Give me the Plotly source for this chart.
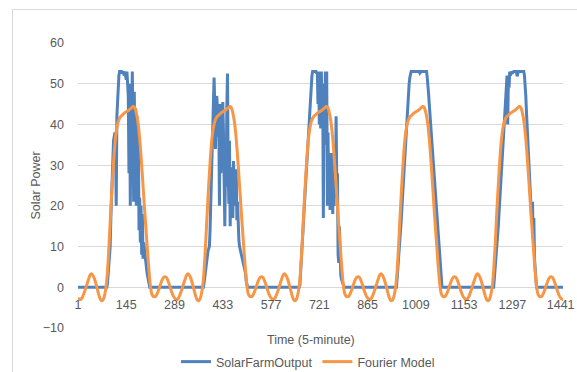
import plotly.graph_objects as go

# ---------------- data ----------------
# time-of-day sample positions (5-minute steps within a day) for the daylight part
day_t = list(range(84, 224, 2))

solar_day1 = [0, 0, 1, 4, 6, 8, 10, 17, 22, 28,
              33, 36, 37, 38, 37, 20, 42, 46, 50, 52,
              53, 53, 53, 53, 52.5, 53, 52.5, 52, 53, 52,
              51, 53, 49, 47, 28, 50, 20, 45, 35, 53,
              40, 21, 48, 26, 44, 20, 42, 25, 38, 14,
              22, 11, 20, 8, 18, 7, 11, 9, 7.5, 6.5,
              5, 3.5, 2.5, 1, 0, 0, 0, 0, 0, 0]
solar_day2 = [0, 0, 1, 2.5, 3.5, 5, 6.5, 8, 9, 9.5,
              10, 14, 21, 28, 35, 42, 47, 51.5, 45, 34,
              41, 47, 44, 37, 43, 20, 45, 28, 31, 40,
              45.5, 38, 24, 15, 30, 24.7, 44, 52.5, 30, 20.5,
              36, 15, 25, 29.5, 22, 17, 31, 24, 26, 20,
              29, 16.5, 21, 12, 11.5, 10, 9.2, 8.5, 8, 7.5,
              6.5, 5.9, 5, 4, 3.4, 1.5, 0, 0, 0, 0]
solar_day3 = [0, 0.5, 3, 6, 9, 12, 15, 18, 21, 24,
              27, 30, 33, 36, 39, 42, 45, 48, 50, 52,
              53, 53, 53, 53, 53, 53, 52.5, 53, 45, 53,
              40, 52, 39, 53, 44, 50, 17, 48, 35, 53,
              40, 53, 20, 38, 22, 33, 19, 30, 21, 33,
              18, 28, 20, 35, 22, 42, 26, 28, 8, 6,
              15, 4, 3, 2, 1.5, 0.5, 0, 0, 0, 0]
solar_day4 = [0, 0, 2, 4, 6, 8, 10, 13, 16, 19,
              22, 25, 28, 31.5, 35, 38, 40.5, 42.5, 45, 47.5,
              50, 51.5, 52.5, 53, 53, 53, 53, 53, 53, 53,
              53, 53, 53, 53, 53, 53, 52.6, 53, 53, 53,
              53, 53, 53, 53, 53, 53, 53, 51.5, 50, 47.5,
              45, 42.5, 40, 37.5, 35, 32.5, 30, 27.5, 25, 22.5,
              20, 17.5, 15, 12.5, 10, 8, 5, 3, 1, 0]
solar_day5 = [0, 0, 0, 2, 4, 6, 7.5, 9, 12, 15,
              18, 21, 24, 27, 30, 33, 36, 39, 41, 44,
              47, 50, 52, 40, 51, 49, 53, 52, 53, 53,
              52.5, 53, 53, 53, 53, 53, 53, 51.8, 53, 53,
              53, 53, 53, 53, 53, 53, 53, 53, 52, 50,
              47, 43, 39, 36, 32, 28, 25, 22, 19, 16,
              21, 12, 17, 7, 4, 2, 0, 0, 0, 0]
solar_days = [solar_day1, solar_day2, solar_day3, solar_day4, solar_day5]

# Fourier model: one day's profile (it repeats identically every day)
fourier_t = list(range(0, 288, 4))
fourier_day = [-2.6, -2.95, -3.0, -2.6, -1.9, -1.0, 0.0, 1.1, 2.1, 3.0,
               3.3, 3.0, 2.3, 1.3, 0.1, -1.2, -2.4, -3.1, -3.3, -2.9,
               -1.7, 0.3, 4.0, 9.5, 16.0, 22.3, 28.0, 33.0, 36.8, 39.2,
               40.7, 41.5, 42.0, 42.3, 42.6, 42.9, 43.1, 43.3, 43.5, 43.8,
               44.1, 44.4, 44.3, 43.5, 42.0, 39.8, 36.5, 32.3, 27.5, 22.5,
               17.5, 12.8, 8.2, 3.8, 0.3, -1.6, -2.2, -2.3, -2.2, -1.6,
               -0.8, 0.2, 1.2, 2.0, 2.5, 2.6, 2.4, 1.7, 0.8, -0.3,
               -1.3, -2.1]

x_ticks = [1, 145, 289, 433, 577, 721, 865, 1009, 1153, 1297, 1441]
y_ticks = [-10, 0, 10, 20, 30, 40, 50, 60]
n_last = 1448
steps_per_day = 288

# ---------------- build series ----------------
solar_x, solar_y = [1], [0]
for d, vals in enumerate(solar_days):
    for t, v in zip(day_t, vals):
        solar_x.append(1 + steps_per_day * d + t)
        solar_y.append(v)
solar_x.append(n_last)
solar_y.append(0)

four_x, four_y = [], []
for d in range(6):
    for t, v in zip(fourier_t, fourier_day):
        idx = 1 + steps_per_day * d + t
        if idx <= n_last + 4:
            four_x.append(idx)
            four_y.append(v)

# ---------------- figure ----------------
FONT = "Liberation Sans, Arial, sans-serif"
TXT = "#595959"
GRID = "#D9D9D9"
W, H = 577, 372
ML, MR, MT, MB = 78, 14, 43, 44
PW, PH = W - ML - MR, H - MT - MB

def px(x):
    return (x - ML) / PW

def py(y):
    return (H - MB - y) / PH

fig = go.Figure()
fig.add_trace(go.Scatter(x=solar_x, y=solar_y, mode="lines", name="SolarFarmOutput",
                         line=dict(color="#4F81BD", width=3)))
fig.add_trace(go.Scatter(x=four_x, y=four_y, mode="lines", name="Fourier Model",
                         line=dict(color="#F79646", width=3, shape="spline", smoothing=0.6)))

fig.update_layout(
    width=W, height=H,
    margin=dict(l=ML, r=MR, t=MT, b=MB, autoexpand=False),
    paper_bgcolor="white", plot_bgcolor="white",
    font=dict(family=FONT, size=12.5, color=TXT),
    showlegend=True,
    legend=dict(orientation="h", x=px(308), xanchor="center", y=py(362), yanchor="middle",
                font=dict(family=FONT, size=12.5, color=TXT), bgcolor="rgba(0,0,0,0)"),
    xaxis=dict(range=[1, n_last], tickvals=x_ticks, ticktext=[str(v) for v in x_ticks],
               showgrid=False, zeroline=False, showline=False, ticks="",
               anchor="free", position=10 / 70, ticklabelstandoff=8,
               tickfont=dict(family=FONT, size=12.5, color=TXT)),
    yaxis=dict(range=[-10, 60], tickvals=y_ticks, showgrid=True, gridcolor=GRID, gridwidth=1,
               zeroline=False, showline=False, ticks="", ticklabelstandoff=13,
               tickfont=dict(family=FONT, size=12.5, color=TXT)),
    shapes=[dict(type="rect", xref="paper", yref="paper",
                 x0=px(12.5), x1=px(620), y0=py(420), y1=py(9.5),
                 line=dict(color=GRID, width=1), fillcolor="rgba(0,0,0,0)", layer="below")],
    annotations=[
        dict(text="Time (5-minute)", xref="paper", yref="paper", x=px(311), y=py(340),
             xanchor="center", yanchor="middle", showarrow=False,
             font=dict(family=FONT, size=12.5, color=TXT)),
        dict(text="Solar Power", xref="paper", yref="paper", x=px(35), y=0.5,
             xanchor="center", yanchor="middle", textangle=-90, showarrow=False,
             font=dict(family=FONT, size=12.5, color=TXT)),
    ],
)

fig.write_html("out.html", config={"displayModeBar": False})
